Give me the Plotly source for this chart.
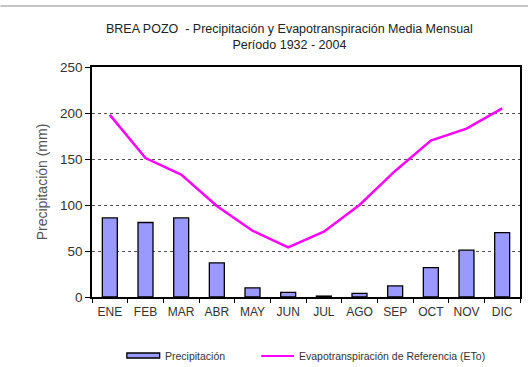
import plotly.graph_objects as go

# Monthly means, Brea Pozo station (1932 - 2004)
meses = ["ENE", "FEB", "MAR", "ABR", "MAY", "JUN", "JUL", "AGO", "SEP", "OCT", "NOV", "DIC"]
precipitacion = [86, 81, 86, 37, 10, 5, 1, 4, 12, 32, 51, 70]
eto = [198, 151, 133, 99, 72, 54, 71, 100, 137, 170, 183, 205]
y_ticks = [0, 50, 100, 150, 200, 250]

W, H = 530, 367
L, R, T, B = 92, 8, 67, 70
PW, PH = W - L - R, H - T - B


def px(x):
    return (x - L) / PW


def py(y):
    return (H - B - y) / PH


fig = go.Figure()
fig.add_trace(go.Bar(
    x=meses, y=precipitacion, name="Precipitación",
    marker=dict(color="#9999ff", line=dict(color="#000000", width=1.3)),
))
fig.add_trace(go.Scatter(
    x=meses, y=eto, mode="lines", name="Evapotranspiración de Referencia (ETo)",
    line=dict(color="#ff00ff", width=2.5),
))

font = "Liberation Sans, Arial, sans-serif"

shapes = [
    # thin rule across the top of the chart
    dict(type="line", xref="paper", yref="paper", x0=px(0), x1=px(W), y0=py(6), y1=py(6),
         line=dict(color="#8a8a8a", width=1)),
    # legend keys
    dict(type="rect", xref="paper", yref="paper", x0=px(127), x1=px(160), y0=py(358), y1=py(353),
         fillcolor="#9999ff", line=dict(color="#000000", width=1.3)),
    dict(type="line", xref="paper", yref="paper", x0=px(262), x1=px(295), y0=py(356), y1=py(356),
         line=dict(color="#ff00ff", width=2)),
]

annotations = [
    dict(text="BREA POZO  - Precipitación y Evapotranspiración Media Mensual<br>Período 1932 - 2004",
         xref="paper", yref="paper", x=px(290), y=py(37), xanchor="center", yanchor="middle",
         showarrow=False, font=dict(family=font, size=12.5, color="#222222")),
    dict(text="Precipitación", xref="paper", yref="paper", x=px(163), y=py(356),
         xanchor="left", yanchor="middle", showarrow=False,
         font=dict(family=font, size=10.5, color="#333333")),
    dict(text="Evapotranspiración de Referencia (ETo)", xref="paper", yref="paper",
         x=px(298), y=py(356), xanchor="left", yanchor="middle", showarrow=False,
         font=dict(family=font, size=10.5, color="#333333")),
]

fig.update_layout(
    width=W, height=H,
    margin=dict(l=L, r=R, t=T, b=B),
    paper_bgcolor="#ffffff", plot_bgcolor="#ffffff",
    showlegend=False,
    bargap=0.58,
    font=dict(family=font, size=11, color="#333333"),
    shapes=shapes, annotations=annotations,
)
fig.update_xaxes(
    type="category", tickson="boundaries", ticks="outside", ticklen=4, tickcolor="#000000",
    showline=True, linecolor="#000000", linewidth=1.5, mirror=True,
    showgrid=False, tickangle=0, tickfont=dict(size=12, color="#333333"), ticklabelstandoff=3,
)
fig.update_yaxes(
    range=[0, 250], tickvals=y_ticks, ticks="outside", ticklen=5, tickcolor="#000000",
    showline=True, linecolor="#000000", linewidth=1.5, mirror=True,
    showgrid=True, gridcolor="#555555", griddash="dot", gridwidth=1,
    zeroline=False, tickfont=dict(size=13.5, color="#333333"),
    title=dict(text="Precipitación (mm)", font=dict(size=14, color="#555555"), standoff=9),
)

fig.write_html("out.html")
